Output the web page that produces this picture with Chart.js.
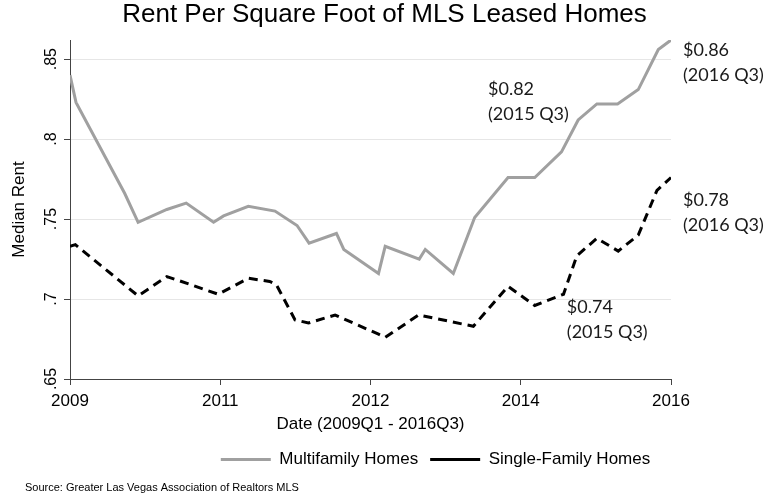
<!DOCTYPE html>
<html>
<head>
<meta charset="utf-8">
<script src="https://cdn.jsdelivr.net/npm/chart.js@4"></script>
<style>
  html, body { margin: 0; padding: 0; background: #fff; }
</style>
</head>
<body>
<canvas id="rentChart" width="769" height="498"></canvas>
<script>
// x = months since 2009Q1 (2016Q3 = 90)
const multiMonths = [0, 0.9, 8.2, 10.2, 14.5, 17.4, 21.5, 23, 26.7, 30.7, 34, 35.8, 39.9, 41, 46.2, 47.2, 52.3, 53.2, 57.4, 60.6, 65.6, 69.6, 73.6, 76.1, 78.9, 82, 85.1, 88.1, 90];
const multiRent = [0.840, 0.823, 0.766, 0.748, 0.756, 0.760, 0.748, 0.752, 0.758, 0.755, 0.746, 0.735, 0.741, 0.731, 0.716, 0.733, 0.725, 0.731, 0.716, 0.751, 0.776, 0.776, 0.792, 0.812, 0.822, 0.822, 0.831, 0.856, 0.862];

const singleMonths = [0, 0.8, 10.2, 14.5, 16, 22.2, 26.7, 29.9, 30.9, 33.7, 35.7, 39.7, 46.2, 47.2, 52.2, 60.4, 65.6, 69.6, 73.9, 75.9, 78.9, 82.1, 85.1, 87.9, 90];
const singleRent = [0.733, 0.734, 0.702, 0.714, 0.712, 0.703, 0.713, 0.711, 0.709, 0.687, 0.685, 0.690, 0.678, 0.676, 0.690, 0.683, 0.708, 0.696, 0.703, 0.727, 0.738, 0.730, 0.740, 0.768, 0.776];

const xTickValues = [0, 22.5, 45, 67.5, 90];
const xTickLabels = ['2009', '2011', '2012', '2014', '2016'];
const yTickValues = [0.65, 0.7, 0.75, 0.8, 0.85];
const yTickLabels = ['.65', '.7', '.75', '.8', '.85'];

// text callouts, anchored in data units (first line baseline)
const callouts = [
    { month: 91.8, rent: 0.8517, lines: ['$0.86', '(2016 Q3)'] },
    { month: 62.6, rent: 0.8274, lines: ['$0.82', '(2015 Q3)'] },
    { month: 91.8, rent: 0.7582, lines: ['$0.78', '(2016 Q3)'] },
    { month: 74.4, rent: 0.6915, lines: ['$0.74', '(2015 Q3)'] },
];

const sourceNote = 'Source: Greater Las Vegas Association of Realtors MLS';

const toPoints = (xs, ys) => xs.map((x, i) => ({ x, y: ys[i] }));

Chart.defaults.font.family = '"Liberation Sans", Arial, sans-serif';
Chart.defaults.color = '#000';

const calloutPlugin = {
    id: 'callouts',
    afterDatasetsDraw(chart) {
        const { ctx, scales: { x, y } } = chart;
        ctx.save();
        ctx.font = '18px Lato';
        ctx.fillStyle = '#1a1a1a';
        ctx.textBaseline = 'alphabetic';
        ctx.textAlign = 'left';
        callouts.forEach((c) => {
            const px = x.getPixelForValue(c.month);
            const py = y.getPixelForValue(c.rent);
            c.lines.forEach((line, i) => ctx.fillText(line, px, py + i * 25));
        });
        ctx.restore();
    },
};

const sourcePlugin = {
    id: 'sourceNote',
    afterDraw(chart) {
        const { ctx } = chart;
        ctx.save();
        ctx.font = '11px "Liberation Sans"';
        ctx.fillStyle = '#000';
        ctx.textBaseline = 'alphabetic';
        ctx.fillText(sourceNote, 25, chart.height - 7);
        ctx.restore();
    },
};

// the legend sits a bit right of the canvas centre in the original
const legendShift = {
    id: 'legendShift',
    afterLayout(chart) {
        chart.legend.left += 51;
        chart.legend.right += 51;
    },
};

new Chart(document.getElementById('rentChart'), {
    type: 'line',
    data: {
        datasets: [
            {
                label: 'Multifamily Homes',
                data: toPoints(multiMonths, multiRent),
                borderColor: '#a0a0a0',
                backgroundColor: '#a0a0a0',
                borderWidth: 3,
                pointRadius: 0,
                tension: 0,
            },
            {
                label: 'Single-Family Homes',
                data: toPoints(singleMonths, singleRent),
                borderColor: '#000',
                backgroundColor: '#000',
                borderWidth: 3,
                borderDash: [9, 6],
                pointRadius: 0,
                tension: 0,
            },
        ],
    },
    options: {
        responsive: false,
        animation: false,
        layout: { padding: { top: 0, left: 0, right: 0, bottom: 20 } },
        scales: {
            x: {
                type: 'linear',
                min: 0,
                max: 90,
                afterBuildTicks: (s) => { s.ticks = xTickValues.map((v) => ({ value: v })); },
                afterFit: (s) => { s.height = 60; },
                ticks: {
                    autoSkip: false,
                    maxRotation: 0,
                    padding: 6,
                    font: { size: 17 },
                    callback: (v, i) => xTickLabels[i],
                },
                grid: { drawOnChartArea: false, drawTicks: true, tickLength: 6, tickColor: '#444' },
                border: { color: '#444', width: 1 },
                title: { display: true, text: 'Date (2009Q1 - 2016Q3)', font: { size: 17 }, padding: { top: 2, bottom: 4 } },
            },
            y: {
                type: 'linear',
                min: 0.65,
                max: 0.862,
                afterBuildTicks: (s) => { s.ticks = yTickValues.map((v) => ({ value: v })); },
                afterFit: (s) => { s.width = 70; },
                ticks: {
                    minRotation: 90,
                    maxRotation: 90,
                    crossAlign: 'center',
                    padding: 1,
                    font: { size: 16 },
                    callback: (v, i) => yTickLabels[i],
                },
                grid: { color: '#e6e6e6', lineWidth: 1, drawTicks: true, tickLength: 6, tickColor: '#444' },
                border: { color: '#444', width: 1 },
                title: { display: true, text: 'Median Rent', font: { size: 17 }, padding: { top: 9, bottom: 0 } },
            },
            y2: {
                position: 'right',
                display: true,
                ticks: { display: false },
                grid: { display: false },
                border: { display: false },
                afterFit: (s) => { s.width = 98; },
            },
        },
        plugins: {
            title: {
                display: true,
                text: 'Rent Per Square Foot of MLS Leased Homes',
                color: '#000',
                font: { size: 26, weight: 'normal', lineHeight: 1 },
                padding: { top: 2, bottom: 12 },
            },
            legend: {
                position: 'bottom',
                labels: {
                    usePointStyle: true,
                    pointStyle: 'line',
                    pointStyleWidth: 50,
                    padding: 12,
                    color: '#000',
                    font: { size: 17 },
                },
            },
            tooltip: { enabled: false },
        },
    },
    plugins: [calloutPlugin, sourcePlugin, legendShift],
});
</script>
</body>
</html>
